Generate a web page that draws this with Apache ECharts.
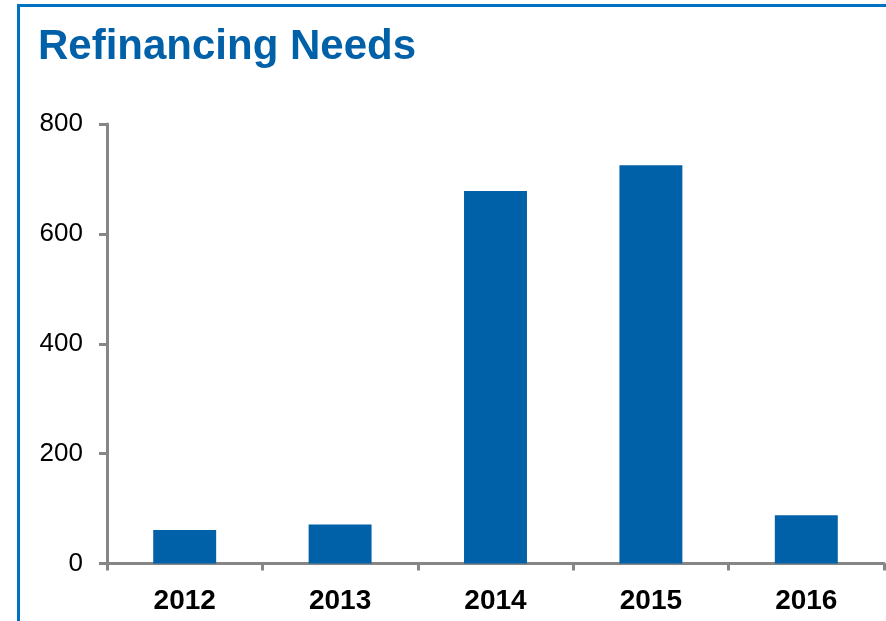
<!DOCTYPE html>
<html>
<head>
<meta charset="utf-8">
<script src="https://cdn.jsdelivr.net/npm/echarts@6/dist/echarts.min.js"></script>
<style>
  html, body { margin: 0; padding: 0; background: #ffffff; }
  #chart { width: 886px; height: 621px; }
</style>
</head>
<body>
<div id="chart"></div>
<script>
// Refinancing needs by year
const years = ['2012', '2013', '2014', '2015', '2016'];
const needs = [61, 71, 678, 725, 88];
const yTicks = [0, 200, 400, 600, 800];

const chart = echarts.init(document.getElementById('chart'), null, { renderer: 'canvas' });

const axisGray = '#868686';
const barBlue = '#0060A8';
const frameBlue = '#0070C0';

chart.setOption({
  animation: false,
  backgroundColor: '#ffffff',
  title: {
    text: 'Refinancing Needs',
    left: 33,
    top: 21,
    textStyle: {
      fontFamily: '"Liberation Sans", Arial, sans-serif',
      fontWeight: 'bold',
      fontSize: 42,
      color: barBlue
    }
  },
  graphic: [{
    type: 'rect',
    shape: { x: 18.5, y: 5.5, width: 1000, height: 1000 },
    style: { fill: null, stroke: frameBlue, lineWidth: 3 },
    silent: true
  }],
  grid: { left: 107, right: 2, top: 124, bottom: 57.5, containLabel: false },
  xAxis: {
    type: 'category',
    data: years,
    axisLine: { lineStyle: { color: axisGray, width: 3 } },
    axisTick: { show: true, alignWithLabel: false, length: 7, lineStyle: { color: axisGray, width: 3 } },
    axisLabel: {
      margin: 24,
      fontFamily: '"Liberation Sans", Arial, sans-serif',
      fontWeight: 'bold',
      fontSize: 28,
      color: '#000000'
    },
    splitLine: { show: false }
  },
  yAxis: {
    type: 'value',
    min: yTicks[0],
    max: yTicks[yTicks.length - 1],
    interval: yTicks[1] - yTicks[0],
    axisLine: { show: true, lineStyle: { color: axisGray, width: 3 } },
    axisTick: { show: true, length: 8, lineStyle: { color: axisGray, width: 3 } },
    axisLabel: {
      margin: 24,
      fontFamily: '"Liberation Sans", Arial, sans-serif',
      fontSize: 26,
      color: '#000000'
    },
    splitLine: { show: false }
  },
  series: [{
    type: 'bar',
    data: needs,
    barWidth: '40.5%',
    itemStyle: { color: barBlue },
    z: 1
  }]
});
</script>
</body>
</html>
